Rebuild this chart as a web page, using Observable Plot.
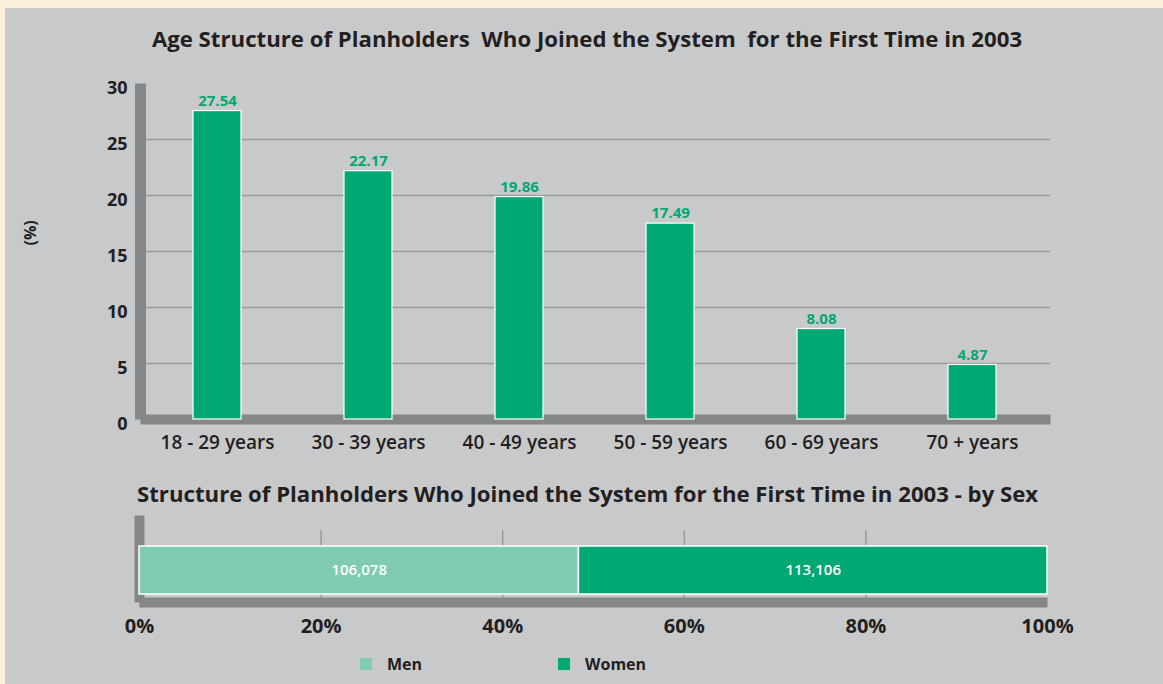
<!DOCTYPE html>
<html>
<head>
<meta charset="utf-8">
<script src="https://cdn.jsdelivr.net/npm/d3@7"></script>
<script src="https://cdn.jsdelivr.net/npm/@observablehq/plot@0.6"></script>
<style>
  html, body { margin: 0; padding: 0; }
  body { width: 1163px; height: 684px; background: #fcefdc; position: relative; overflow: hidden;
         font-family: "Open Sans", sans-serif; color: #231f20; }
  #panel { position: absolute; left: 5px; top: 8px; width: 1158px; height: 676px; background: #c8c9cb; }
  .title { position: absolute; font-weight: 700; font-size: 22.2px; line-height: 22px; white-space: pre; color: #231f20; }
  #t1 { left: 0; width: 1174px; text-align: center; top: 28px; }
  #t2 { left: 137px; top: 483px; }
  .abs { position: absolute; left: 0; }
  #legend { position: absolute; left: 360px; top: 653px; display: flex; font-weight: 700; font-size: 16px; }
  .item { width: 198px; display: flex; align-items: center; }
  .sw { width: 12px; height: 12px; margin-right: 15px; }
</style>
</head>
<body>
<div id="panel"></div>
<div class="title" id="t1"></div>
<div class="title" id="t2"></div>
<div class="abs" id="c1" style="top:70px"></div>
<div class="abs" id="c2" style="top:505px"></div>
<div id="legend"></div>
<script>
// ---- data ----
const title1 = "Age Structure of Planholders  Who Joined the System  for the First Time in 2003";
const title2 = "Structure of Planholders Who Joined the System for the First Time in 2003 - by Sex";
const ageGroups = ["18 - 29 years", "30 - 39 years", "40 - 49 years", "50 - 59 years", "60 - 69 years", "70 + years"];
const agePercent = [27.54, 22.17, 19.86, 17.49, 8.08, 4.87];
const yTicks = [0, 5, 10, 15, 20, 25, 30];
const yLabel = "(%)";
const sexes = ["Men", "Women"];
const sexCounts = [106078, 113106];
const pctTicks = [0, 0.2, 0.4, 0.6, 0.8, 1];

// ---- styles ----
const GREEN = "#00a874";
const LIGHT = "#80cbb1";
const AXIS = "#858688";
const GRID = "#999a9c";
const INK = "#231f20";
const FONT = "Open Sans";

document.getElementById("t1").textContent = title1;
document.getElementById("t2").textContent = title2;

const ageData = ageGroups.map((g, i) => ({age: g, pct: agePercent[i]}));
const sexData = sexes.map((s, i) => ({sex: s, count: sexCounts[i]}));

const chart1 = Plot.plot({
  width: 1163, height: 390,
  marginTop: 13, marginBottom: 41, marginLeft: 140, marginRight: 113,
  style: {background: "transparent", fontFamily: FONT, color: INK, overflow: "visible"},
  x: {domain: ageGroups, paddingInner: 0.68, paddingOuter: 0.34, label: null},
  y: {domain: [0, 30], label: null},
  marks: [
    Plot.gridY(yTicks.filter(t => t > 0 && t < 30), {stroke: GRID, strokeOpacity: 1, strokeWidth: 1.5}),
    Plot.frame({anchor: "left", stroke: AXIS, strokeWidth: 11, strokeLinecap: "butt"}),
    Plot.frame({anchor: "bottom", stroke: AXIS, strokeWidth: 10, strokeLinecap: "butt"}),
    Plot.barY(ageData, {x: "age", y: "pct", fill: GREEN, stroke: "#ffffff", strokeWidth: 1.2}),
    Plot.text(ageData, {x: "age", y: "pct", text: d => d.pct.toFixed(2), dy: -10, fill: GREEN,
      fontWeight: 700, fontSize: 15}),
    Plot.text([yLabel], {text: d => d, frameAnchor: "left", dx: -110, dy: -6, rotate: -90,
      fontWeight: 700, fontSize: 16, fill: INK}),
    Plot.axisY({ticks: yTicks, tickSize: 0, tickPadding: 13, fontSize: 18, fontWeight: 700,
      dy: 5, label: null, fill: INK}),
    Plot.axisX({tickSize: 0, tickPadding: 16, fontSize: 19, fontWeight: 600, label: null, fill: INK})
  ]
});
document.getElementById("c1").appendChild(chart1);

const chart2 = Plot.plot({
  width: 1163, height: 130,
  marginTop: 10, marginBottom: 33, marginLeft: 139, marginRight: 116,
  style: {background: "transparent", fontFamily: FONT, color: INK, overflow: "visible"},
  x: {domain: [0, 1], label: null},
  color: {domain: sexes, range: [LIGHT, GREEN]},
  marks: [
    Plot.gridX(pctTicks.slice(1, -1), {stroke: GRID, strokeOpacity: 1, strokeWidth: 1.5, insetTop: 15}),
    Plot.frame({anchor: "left", stroke: AXIS, strokeWidth: 10, strokeLinecap: "butt"}),
    Plot.frame({anchor: "bottom", stroke: AXIS, strokeWidth: 10, strokeLinecap: "butt"}),
    Plot.barX(sexData, Plot.stackX({x: "count", fill: "sex", offset: "normalize",
      stroke: "#ffffff", strokeWidth: 1.5, insetTop: 31, insetBottom: 8})),
    Plot.text(sexData, Plot.stackX({x: "count", offset: "normalize",
      text: d => d3.format(",")(d.count), fill: "#ffffff", fontSize: 15, fontWeight: 600, dy: 11.5})),
    Plot.axisX({ticks: pctTicks, tickFormat: d3.format(".0%"), tickSize: 0, tickPadding: 16,
      fontSize: 20, fontWeight: 700, label: null, fill: INK})
  ]
});
document.getElementById("c2").appendChild(chart2);

const legend = document.getElementById("legend");
const colorOf = {Men: LIGHT, Women: GREEN};
sexes.forEach(s => {
  const item = document.createElement("div");
  item.className = "item";
  const sw = document.createElement("span");
  sw.className = "sw";
  sw.style.background = colorOf[s];
  const lab = document.createElement("span");
  lab.textContent = s;
  item.appendChild(sw);
  item.appendChild(lab);
  legend.appendChild(item);
});
</script>
</body>
</html>
